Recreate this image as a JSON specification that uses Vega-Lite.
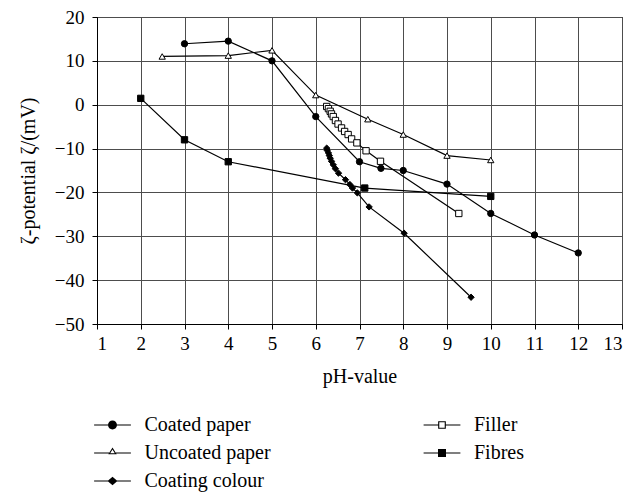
{
  "$schema": "https://vega.github.io/schema/vega-lite/v6.json",
  "width": 525,
  "height": 307,
  "autosize": "none",
  "padding": {"left": 97, "top": 17, "right": 21, "bottom": 169},
  "background": "white",
  "config": {
    "font": "Liberation Serif",
    "view": {"stroke": "black", "strokeWidth": 1},
    "axis": {
      "labelFont": "Liberation Serif",
      "titleFont": "Liberation Serif",
      "labelFontSize": 19,
      "titleFontSize": 20,
      "labelColor": "black",
      "titleColor": "black",
      "titleFontWeight": "normal",
      "domainColor": "black",
      "tickColor": "black",
      "gridColor": "#4d4d4d",
      "gridOpacity": 1,
      "gridWidth": 1,
      "tickSize": 5
    },
    "legend": {
      "labelFont": "Liberation Serif",
      "labelFontSize": 20,
      "labelColor": "black"
    }
  },
  "data": {
    "values": [
      {"series": "Coated paper", "pH": 3.0, "zeta": 13.9},
      {"series": "Coated paper", "pH": 4.0, "zeta": 14.5},
      {"series": "Coated paper", "pH": 5.0, "zeta": 10.0},
      {"series": "Coated paper", "pH": 6.0, "zeta": -2.7},
      {"series": "Coated paper", "pH": 7.0, "zeta": -13.0},
      {"series": "Coated paper", "pH": 7.49, "zeta": -14.5},
      {"series": "Coated paper", "pH": 8.0, "zeta": -15.0},
      {"series": "Coated paper", "pH": 9.0, "zeta": -18.1},
      {"series": "Coated paper", "pH": 10.0, "zeta": -24.8},
      {"series": "Coated paper", "pH": 11.0, "zeta": -29.7},
      {"series": "Coated paper", "pH": 12.0, "zeta": -33.8},
      {"series": "Uncoated paper", "pH": 2.49, "zeta": 11.0},
      {"series": "Uncoated paper", "pH": 4.0, "zeta": 11.2},
      {"series": "Uncoated paper", "pH": 5.0, "zeta": 12.4},
      {"series": "Uncoated paper", "pH": 6.0, "zeta": 2.2},
      {"series": "Uncoated paper", "pH": 7.19, "zeta": -3.3},
      {"series": "Uncoated paper", "pH": 8.0, "zeta": -6.8},
      {"series": "Uncoated paper", "pH": 9.0, "zeta": -11.6},
      {"series": "Uncoated paper", "pH": 10.0, "zeta": -12.6},
      {"series": "Coating colour", "pH": 6.25, "zeta": -9.9},
      {"series": "Coating colour", "pH": 6.26, "zeta": -10.4},
      {"series": "Coating colour", "pH": 6.29, "zeta": -11.0},
      {"series": "Coating colour", "pH": 6.31, "zeta": -11.6},
      {"series": "Coating colour", "pH": 6.33, "zeta": -12.2},
      {"series": "Coating colour", "pH": 6.36, "zeta": -12.9},
      {"series": "Coating colour", "pH": 6.40, "zeta": -13.7},
      {"series": "Coating colour", "pH": 6.45, "zeta": -14.6},
      {"series": "Coating colour", "pH": 6.52, "zeta": -15.6},
      {"series": "Coating colour", "pH": 6.68, "zeta": -17.1},
      {"series": "Coating colour", "pH": 6.78, "zeta": -18.2},
      {"series": "Coating colour", "pH": 6.84, "zeta": -19.0},
      {"series": "Coating colour", "pH": 6.95, "zeta": -20.1},
      {"series": "Coating colour", "pH": 7.22, "zeta": -23.3},
      {"series": "Coating colour", "pH": 8.02, "zeta": -29.3},
      {"series": "Coating colour", "pH": 9.55, "zeta": -43.9},
      {"series": "Filler", "pH": 6.25, "zeta": -0.4},
      {"series": "Filler", "pH": 6.29, "zeta": -0.9},
      {"series": "Filler", "pH": 6.33, "zeta": -1.5},
      {"series": "Filler", "pH": 6.36, "zeta": -2.1},
      {"series": "Filler", "pH": 6.40, "zeta": -2.7},
      {"series": "Filler", "pH": 6.45, "zeta": -3.6},
      {"series": "Filler", "pH": 6.51, "zeta": -4.4},
      {"series": "Filler", "pH": 6.59, "zeta": -5.3},
      {"series": "Filler", "pH": 6.66, "zeta": -6.1},
      {"series": "Filler", "pH": 6.74, "zeta": -6.8},
      {"series": "Filler", "pH": 6.82, "zeta": -7.8},
      {"series": "Filler", "pH": 6.94, "zeta": -8.7},
      {"series": "Filler", "pH": 7.15, "zeta": -10.5},
      {"series": "Filler", "pH": 7.48, "zeta": -12.9},
      {"series": "Filler", "pH": 9.27, "zeta": -24.8},
      {"series": "Fibres", "pH": 2.0, "zeta": 1.45},
      {"series": "Fibres", "pH": 3.0, "zeta": -8.0},
      {"series": "Fibres", "pH": 4.0, "zeta": -13.0},
      {"series": "Fibres", "pH": 7.12, "zeta": -19.0},
      {"series": "Fibres", "pH": 10.0, "zeta": -20.9}
    ]
  },
  "resolve": {"scale": {"shape": "independent"}, "legend": {"shape": "independent"}},
  "layer": [
    {
      "mark": {"type": "line", "color": "black", "strokeWidth": 1.2},
      "encoding": {
        "x": {
          "field": "pH", "type": "quantitative",
          "scale": {"domain": [1, 13], "nice": false, "zero": false},
          "axis": {"title": "pH-value", "values": [1,2,3,4,5,6,7,8,9,10,11,12,13], "labelPadding": 5, "titlePadding": 13}
        },
        "y": {
          "field": "zeta", "type": "quantitative",
          "scale": {"domain": [-50, 20], "nice": false, "zero": false},
          "axis": {"title": "ζ-potential ζ/(mV)", "values": [-50,-40,-30,-20,-10,0,10,20], "labelPadding": 8, "titlePadding": 16}
        },
        "detail": {"field": "series"}
      }
    },
    {
      "mark": {"type": "point", "stroke": "black", "strokeWidth": 1, "opacity": 1, "size": 40, "filled": true},
      "encoding": {
        "x": {"field": "pH", "type": "quantitative"},
        "y": {"field": "zeta", "type": "quantitative"},
        "shape": {
          "field": "series", "type": "nominal",
          "scale": {
            "domain": ["Coated paper", "Uncoated paper", "Coating colour", "Filler", "Fibres"],
            "range": ["circle", "triangle-up", "diamond", "square", "square"]
          },
          "legend": null
        },
        "fill": {
          "field": "series", "type": "nominal",
          "scale": {
            "domain": ["Coated paper", "Uncoated paper", "Coating colour", "Filler", "Fibres"],
            "range": ["black", "white", "black", "white", "black"]
          },
          "legend": null
        }
      }
    },
    {
      "transform": [{"filter": "datum.pH > 100"}],
      "mark": {"type": "point", "filled": true, "color": "black", "opacity": 1},
      "encoding": {
        "x": {"field": "pH", "type": "quantitative"},
        "y": {"field": "zeta", "type": "quantitative"},
        "shape": {
          "field": "series", "type": "nominal",
          "scale": {
            "domain": ["Coated paper", "Uncoated paper", "Coating colour", "Filler", "Fibres"],
            "range": [
              "M-2.3,-0.075H2.3V0.075H-2.3ZM-0.56,0A0.56,0.56 0 1,1 0.56,0A0.56,0.56 0 1,1 -0.56,0Z",
              "M-2.3,-0.075H-0.42V0.075H-2.3ZM0.42,-0.075H2.3V0.075H0.42ZM0,-0.68L0.52,0.15L-0.52,0.15ZM0,-0.436L-0.285,0.02L0.285,0.02Z",
              "M-2.3,-0.075H2.3V0.075H-2.3ZM-0.62,0L0,-0.52L0.62,0L0,0.52Z",
              "M-2.3,-0.075H-0.47V0.075H-2.3ZM0.47,-0.075H2.3V0.075H0.47ZM-0.48,-0.48H0.48V0.48H-0.48ZM-0.34,-0.34V0.34H0.34V-0.34Z",
              "M-2.3,-0.075H2.3V0.075H-2.3ZM-0.5,-0.5H0.5V0.5H-0.5Z"
            ]
          },
          "legend": {
            "title": null,
            "orient": "none",
            "legendX": 5.5,
            "legendY": 398,
            "columns": 2,
            "columnPadding": 151.5,
            "rowPadding": 8,
            "symbolSize": 256,
            "symbolStrokeWidth": 0,
            "symbolFillColor": "black",
            "labelOffset": 22
          }
        }
      }
    }
  ]
}
